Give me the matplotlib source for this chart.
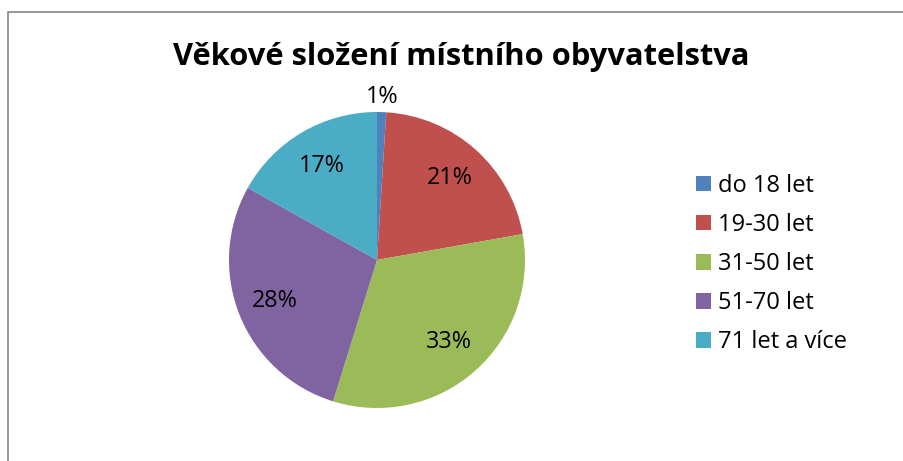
import matplotlib
matplotlib.use('Agg')
import matplotlib.pyplot as plt
from matplotlib.patches import Rectangle
import numpy as np

# Data
categories = ['do 18 let', '19-30 let', '31-50 let', '51-70 let', '71 let a více']
values = [1.0, 21.2, 32.6, 28.3, 16.9]
colors = ['#4F81BD', '#C0504D', '#9BBB59', '#8064A2', '#4BACC6']
title = 'Věkové složení místního obyvatelstva'

plt.rcParams['font.family'] = ['Open Sans', 'DejaVu Sans']

W, H = 904, 461
fig = plt.figure(figsize=(W / 100, H / 100), dpi=100)

# Rámeček grafu (vpravo a dole přesahuje obrázek)
fig.patches.append(Rectangle((7.5 / W, -0.1), 1.2, 1.1 - 12.5 / H,
                             transform=fig.transFigure, fill=False,
                             edgecolor='#868686', linewidth=1.2))

cx, cy, r = 377, 260, 148
ax = fig.add_axes([(cx - r) / W, (H - cy - r) / H, 2 * r / W, 2 * r / H])
wedges, _ = ax.pie(values, colors=colors, startangle=90, counterclock=False,
                   radius=1, wedgeprops=dict(linewidth=0))
ax.set_xlim(-1, 1)
ax.set_ylim(-1, 1)
ax.axis('off')

# Popisky procent
total = sum(values)
for w, v in zip(wedges, values):
    mid = np.deg2rad((w.theta1 + w.theta2) / 2)
    d = 1.1 if v / total < 0.05 else 0.74
    ax.text(d * np.cos(mid), d * np.sin(mid), f'{v / total * 100:.0f}%',
            ha='center', va='center', fontsize=16.8, color='black', clip_on=False)

fig.text(461 / W, 1 - 57 / H, title, ha='center', va='center',
         fontsize=22.2, fontweight='bold')

fig.legend(wedges, categories, loc='upper left',
           bbox_to_anchor=(684 / W, 1 - 162 / H), frameon=False,
           fontsize=17, handlelength=0.64, handleheight=0.64,
           handletextpad=0.3, labelspacing=0.64, borderpad=0)

fig.savefig('out.png', dpi=100)
